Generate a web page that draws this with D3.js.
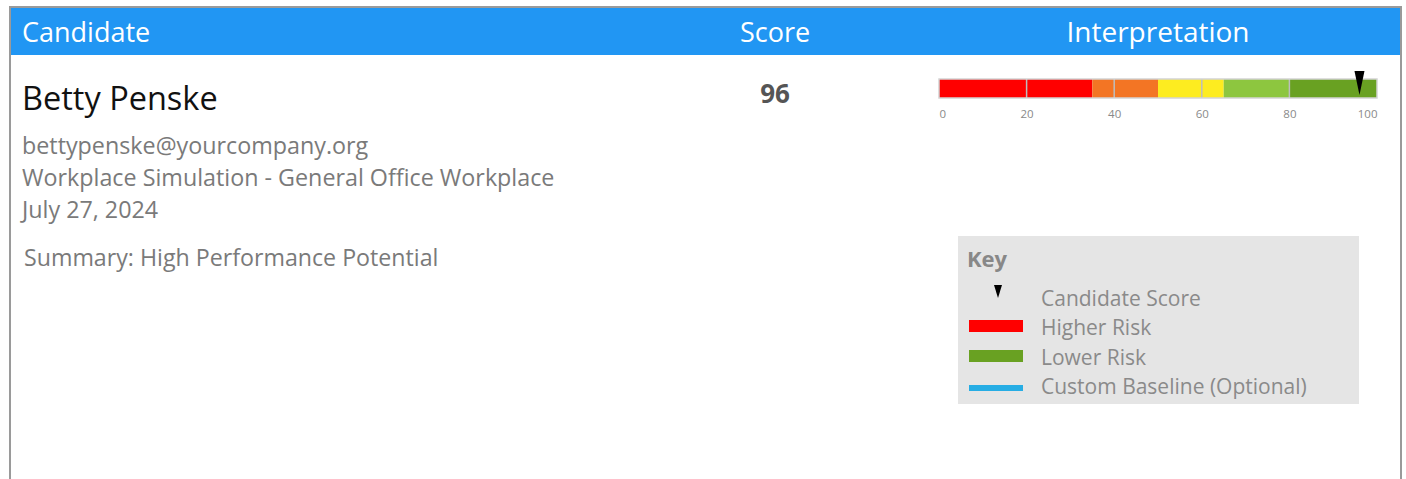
<!DOCTYPE html>
<html>
<head>
<meta charset="utf-8">
<script src="https://cdn.jsdelivr.net/npm/d3@7"></script>
<style>
  html, body { margin: 0; padding: 0; background: #fff; }
  svg text { font-family: "Open Sans", "Noto Sans", sans-serif; }
</style>
</head>
<body>
<svg id="report"></svg>
<script>
// ---- data ----
var headers = ["Candidate", "Score", "Interpretation"];
var candidateName = "Betty Penske";
var detailLines = ["bettypenske@yourcompany.org", "Workplace Simulation - General Office Workplace", "July 27, 2024"];
var summaryText = "Summary: High Performance Potential";
var score = 96;

var bandStops = [0, 35, 50, 65, 80, 100];
var bandColors = ["#ff0000", "#f37524", "#fdec20", "#8dc63f", "#69a122"];
var tickValues = [0, 20, 40, 60, 80, 100];

var legendLabels = ["Candidate Score", "Higher Risk", "Lower Risk", "Custom Baseline (Optional)"];
var legendColors = [null, "#ff0000", "#69a122", "#27ade4"];

var width = 1406, height = 479;
var svg = d3.select("#report").attr("width", width).attr("height", height);

/* ~~~ frame + header ~~~ */
svg.append("rect").attr("x", 10).attr("y", 7).attr("width", 1391).attr("height", 480)
   .attr("fill", "none").attr("stroke", "#9a9a9a").attr("stroke-width", 2);
svg.append("rect").attr("x", 11).attr("y", 8).attr("width", 1389).attr("height", 47).attr("fill", "#2196f3");

var headerX = [22, 775, 1158];
var headerSize = [27, 27, 28];
svg.selectAll(".hdr").data(headers).enter().append("text")
   .attr("class", "hdr")
   .attr("x", function(d, i){ return headerX[i]; })
   .attr("y", 42)
   .attr("text-anchor", function(d, i){ return i === 0 ? "start" : "middle"; })
   .attr("fill", "#fff").attr("font-size", function(d, i){ return headerSize[i]; })
   .text(function(d){ return d; });

/* ~~~ candidate block ~~~ */
svg.append("text").attr("x", 22).attr("y", 110).attr("font-size", 32.5).attr("fill", "#111").text(candidateName);

svg.selectAll(".detail").data(detailLines).enter().append("text")
   .attr("class", "detail")
   .attr("x", 22).attr("y", function(d, i){ return 154 + i * 32; })
   .attr("font-size", 23.3).attr("fill", "#7a7a7a")
   .text(function(d){ return d; });

svg.append("text").attr("x", 24).attr("y", 266).attr("font-size", 23.2).attr("fill", "#7a7a7a").text(summaryText);

svg.append("text").attr("x", 775).attr("y", 103).attr("text-anchor", "middle")
   .attr("font-size", 26).attr("font-weight", "bold").attr("fill", "#555").text(score);

/* ~~~ gauge ~~~ */
var x = d3.scaleLinear().domain([0, 100]).range([939, 1377]);
var barTop = 79, barH = 19;
var gauge = svg.append("g");

gauge.selectAll("rect.band").data(bandColors).enter().append("rect")
   .attr("class", "band")
   .attr("x", function(d, i){ return x(bandStops[i]); })
   .attr("width", function(d, i){ return x(bandStops[i + 1]) - x(bandStops[i]); })
   .attr("y", barTop).attr("height", barH)
   .attr("fill", function(d){ return d; });

// gridlines inside the bar
gauge.selectAll("line.grid").data(tickValues.slice(1, -1)).enter().append("line")
   .attr("class", "grid")
   .attr("x1", function(d){ return x(d); }).attr("x2", function(d){ return x(d); })
   .attr("y1", barTop).attr("y2", barTop + barH)
   .attr("stroke", "#bdbdbd").attr("stroke-width", 1.5);

gauge.append("rect").attr("x", x(0)).attr("y", barTop).attr("width", x(100) - x(0)).attr("height", barH)
   .attr("fill", "none").attr("stroke", "#d4d4d4").attr("stroke-width", 1.5);

var axis = d3.axisBottom(x).tickValues(tickValues).tickSize(0).tickPadding(0);
var axisG = svg.append("g").attr("transform", "translate(0,110)").call(axis);
axisG.select(".domain").remove();
axisG.selectAll("text")
   .attr("fill", "#8a8a8a").attr("font-size", 11.5).attr("dy", "0.71em")
   .attr("text-anchor", function(d, i){ return i === 0 ? "start" : (i === tickValues.length - 1 ? "end" : "middle"); })
   .style("font-family", "'Open Sans', sans-serif");

// score marker
var mx = x(score);
gauge.append("path")
   .attr("d", "M" + (mx - 5) + ",71 L" + (mx + 5) + ",71 L" + mx + ",95 Z")
   .attr("fill", "#000");

/* ~~~ key ~~~ */
var key = svg.append("g");
key.append("rect").attr("x", 958).attr("y", 236).attr("width", 401).attr("height", 168).attr("fill", "#e5e5e5");
key.append("text").attr("x", 967).attr("y", 267).attr("font-size", 22).attr("font-weight", "bold").attr("fill", "#888").text("Key");

var rowY = [306, 335, 365, 394];
key.selectAll(".klabel").data(legendLabels).enter().append("text")
   .attr("class", "klabel")
   .attr("x", 1041).attr("y", function(d, i){ return rowY[i]; })
   .attr("font-size", 21).attr("fill", "#8a8a8a")
   .text(function(d){ return d; });

key.append("path").attr("d", "M994,285 L1002,285 L998,298 Z").attr("fill", "#000");

var swatchH = [0, 12, 12, 6];
key.selectAll(".swatch").data(legendColors.slice(1)).enter().append("rect")
   .attr("class", "swatch")
   .attr("x", 969).attr("width", 54)
   .attr("y", function(d, i){ return rowY[i + 1] - 15 + (12 - swatchH[i + 1]) / 2 + (i === 2 ? 3 : 0); })
   .attr("height", function(d, i){ return swatchH[i + 1]; })
   .attr("fill", function(d){ return d; });
</script>
</body>
</html>
